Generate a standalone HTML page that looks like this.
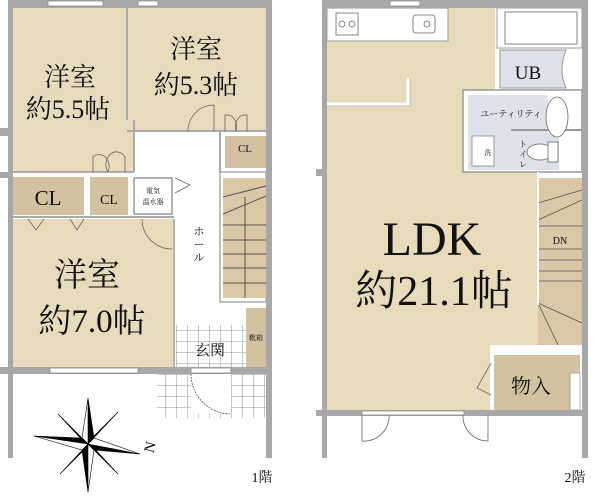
<!DOCTYPE html>
<html><head><meta charset="utf-8"><style>
html,body{margin:0;padding:0;background:#fff;width:600px;height:498px;overflow:hidden}
svg{display:block}
text{font-family:"Liberation Serif","Noto Serif CJK SC",serif;fill:#111}
</style></head><body>
<svg width="600" height="498" viewBox="0 0 600 498" xmlns="http://www.w3.org/2000/svg">
<defs>
<pattern id="tile" width="11" height="11" patternUnits="userSpaceOnUse">
<rect width="11" height="11" fill="#fff"/><path d="M0 0H11M0 0V11" stroke="#777" stroke-width="0.8"/></pattern>
</defs>
<!-- ===== 1F ===== -->
<rect x="13" y="8" width="121" height="163" fill="#e8dbbc"/>
<rect x="127" y="8" width="139" height="122" fill="#e8dbbc"/>
<rect x="225" y="136" width="41" height="32" fill="#d3c2a2"/>
<rect x="13" y="177" width="71" height="38" fill="#d3c2a2"/>
<rect x="90" y="177" width="38" height="38" fill="#d3c2a2"/>
<rect x="134" y="178" width="38" height="36" fill="#fff" stroke="#999" stroke-width="1.5"/>
<rect x="13" y="219" width="160" height="148" fill="#e8dbbc"/>
<line x1="174" y1="219" x2="174" y2="368" stroke="#999" stroke-width="1.5"/>
<line x1="127" y1="8" x2="127" y2="120" stroke="#aaa" stroke-width="2"/>
<line x1="127" y1="131" x2="266" y2="131" stroke="#aaa" stroke-width="2"/>
<line x1="134" y1="120" x2="134" y2="172" stroke="#aaa" stroke-width="2"/>
<line x1="13" y1="172" x2="134" y2="172" stroke="#aaa" stroke-width="2"/>
<line x1="220" y1="131" x2="220" y2="172" stroke="#aaa" stroke-width="2"/>
<line x1="13" y1="217" x2="174" y2="217" stroke="#aaa" stroke-width="2"/>
<rect x="220" y="172" width="46" height="130" fill="#fff" stroke="#aaa" stroke-width="1.5"/>
<rect x="223" y="178" width="43" height="120" fill="#d9c7a6"/>
<g stroke="#555" stroke-width="1">
<line x1="223" y1="197" x2="266" y2="186"/><line x1="223" y1="214" x2="266" y2="196"/>
<line x1="245" y1="197" x2="245" y2="298"/>
<line x1="223" y1="225" x2="266" y2="225"/><line x1="223" y1="240" x2="266" y2="240"/>
<line x1="223" y1="254" x2="266" y2="254"/><line x1="223" y1="268" x2="266" y2="268"/>
<line x1="223" y1="283" x2="266" y2="283"/>
</g>
<rect x="176" y="325" width="70" height="43" fill="url(#tile)"/>
<rect x="246" y="308" width="20" height="60" fill="#d3c2a2"/>
<rect x="157" y="374" width="109" height="44" fill="url(#tile)"/>
<rect x="191" y="374" width="40" height="40" fill="#fff"/>
<path d="M191 374 A40 40 0 0 0 231 414" fill="none" stroke="#555" stroke-width="0.8" stroke-dasharray="2 1"/>
<g fill="#a8a8a8">
<rect x="8" y="0" width="5" height="458"/>
<rect x="266" y="0" width="6" height="458"/>
<rect x="8" y="0" width="264" height="8"/>
<rect x="0" y="128" width="13" height="8"/><rect x="0" y="172" width="13" height="6"/>
<rect x="0" y="367" width="272" height="7"/>
</g>
<g fill="#fff" stroke="#888" stroke-width="0.8">
<rect x="48" y="1" width="55" height="5"/><rect x="138" y="1" width="20" height="5"/>
<rect x="50" y="368" width="88" height="5"/><rect x="191" y="368" width="40" height="5"/>
</g>
<g fill="none" stroke="#666" stroke-width="0.8">
<path d="M188 131 A26 26 0 0 1 214 105 V131"/>
<path d="M225 131 V115 A10 12 0 0 1 236 131 M236 131 A10 12 0 0 1 247 115 V131"/>
<path d="M93 172 V157 A10 12 0 0 1 108 172 M108 172 A10 12 0 0 1 125 157 V172"/>
<path d="M142 219 A30 30 0 0 0 172 249"/>
<path d="M28 219 L36 230 L44 219 M70 219 L77 230 L84 219"/>
<path d="M175 178 L190 185 L175 193"/>
</g>
<text x="70" y="86" font-size="26" text-anchor="middle">洋室</text>
<text x="68" y="118" font-size="26" text-anchor="middle">約5.5帖</text>
<text x="196" y="58" font-size="26" text-anchor="middle">洋室</text>
<text x="196" y="94" font-size="26" text-anchor="middle">約5.3帖</text>
<text x="245" y="152" font-size="11" text-anchor="middle">CL</text>
<text x="48" y="205" font-size="21" text-anchor="middle">CL</text>
<text x="109" y="204" font-size="14" text-anchor="middle">CL</text>
<text x="153" y="193" font-size="7" text-anchor="middle">電気</text>
<text x="153" y="204" font-size="7" text-anchor="middle">温水器</text>
<text x="199" y="235" font-size="11" text-anchor="middle">ホ</text>
<text x="199" y="248" font-size="11" text-anchor="middle">ー</text>
<text x="199" y="261" font-size="11" text-anchor="middle">ル</text>
<text x="87" y="286" font-size="33" text-anchor="middle">洋室</text>
<text x="92" y="332" font-size="33" text-anchor="middle">約7.0帖</text>
<text x="210" y="355" font-size="15" text-anchor="middle">玄関</text>
<text x="256" y="340" font-size="7" text-anchor="middle">靴箱</text>
<g transform="translate(88,444)" stroke="#000" stroke-width="0.6">
<polygon points="0,-46 6,-6 0,0" fill="#000"/><polygon points="0,-46 -6,-6 0,0" fill="#fff"/>
<polygon points="0,48 -6,6 0,0" fill="#000"/><polygon points="0,48 6,6 0,0" fill="#fff"/>
<polygon points="-54,-8 -6,-6 0,0" fill="#000"/><polygon points="-54,-8 -6,6 0,0" fill="#fff"/>
<polygon points="52,10 6,6 0,0" fill="#000"/><polygon points="52,10 6,-6 0,0" fill="#fff"/>
<polygon points="-30,-30 -4,-2 0,0" fill="#000"/><polygon points="30,30 4,2 0,0" fill="#000"/>
<polygon points="30,-32 2,-4 0,0" fill="#000"/><polygon points="-28,30 -2,4 0,0" fill="#000"/>
</g>
<text x="150" y="452" font-size="15" text-anchor="middle" transform="rotate(-75 150 447)">N</text>
<text x="262" y="482" font-size="14" text-anchor="middle">1階</text>

<!-- ===== 2F ===== -->
<path d="M327 8 H495 V90 H463 V172 H538 V345 H490 V410 H327 Z" fill="#e8dbbc"/>
<rect x="327" y="8" width="121" height="33" fill="#fff" stroke="#999" stroke-width="1"/>
<g fill="none" stroke="#666" stroke-width="0.8">
<rect x="336" y="13" width="22" height="22"/><circle cx="342" cy="24" r="3"/><circle cx="352" cy="24" r="3"/>
<rect x="413" y="15" width="22" height="18" rx="3"/><circle cx="427" cy="24" r="3"/>
</g>
<path d="M327 104 H408 V78" fill="none" stroke="#fff" stroke-width="3"/>
<path d="M327 106 H410 V78" fill="none" stroke="#bbb" stroke-width="0.8"/>
<rect x="497" y="8" width="85" height="40" fill="#fff" stroke="#999" stroke-width="1"/>
<rect x="505" y="12" width="72" height="32" fill="none" stroke="#666" stroke-width="0.8"/>
<path d="M500 50 H566 Q558 70 566 88 H500 Z" fill="#dde1ea" stroke="#999" stroke-width="1"/>
<rect x="463" y="90" width="119" height="82" fill="#fff" stroke="#999" stroke-width="1.5"/>
<rect x="468" y="95" width="80" height="75" fill="#dde1ea"/>
<rect x="514" y="133" width="45" height="37" fill="#dde1ea"/>
<rect x="511" y="129" width="71" height="2" fill="#999"/>
<rect x="472" y="136" width="22" height="30" fill="#fff" stroke="#888" stroke-width="0.8"/>
<ellipse cx="557" cy="117" rx="11" ry="20" fill="#fff" stroke="#666" stroke-width="0.8"/>
<ellipse cx="540" cy="152" rx="13" ry="8" fill="#fff" stroke="#666" stroke-width="0.8"/>
<rect x="548" y="142" width="10" height="20" fill="#fff" stroke="#666" stroke-width="0.8"/>
<rect x="538" y="178" width="44" height="167" fill="#d9c7a6"/>
<g stroke="#555" stroke-width="0.8">
<line x1="538" y1="203" x2="582" y2="190"/><line x1="538" y1="220" x2="582" y2="200"/>
<line x1="538" y1="226" x2="582" y2="226"/><line x1="538" y1="249" x2="582" y2="249"/>
<line x1="538" y1="260" x2="582" y2="260"/><line x1="538" y1="271" x2="582" y2="271"/>
<line x1="538" y1="281" x2="582" y2="281"/><line x1="538" y1="303" x2="582" y2="323"/>
<line x1="538" y1="303" x2="558" y2="345"/>
</g>
<line x1="538" y1="172" x2="538" y2="305" stroke="#fff" stroke-width="2"/>
<rect x="490" y="345" width="92" height="65" fill="#fff"/>
<rect x="494" y="355" width="86" height="55" fill="#d3c2a2"/>
<rect x="570" y="373" width="10" height="37" fill="#fff" stroke="#999" stroke-width="0.8"/>
<path d="M491 363 L477 388 L491 395" fill="none" stroke="#666" stroke-width="0.8"/>
<g fill="#a8a8a8">
<rect x="322" y="0" width="5" height="458"/>
<rect x="582" y="0" width="6" height="458"/>
<rect x="322" y="0" width="266" height="8"/>
<rect x="316" y="169" width="11" height="7"/>
<rect x="316" y="410" width="272" height="6"/>
</g>
<g fill="#fff" stroke="#888" stroke-width="0.8">
<rect x="390" y="1" width="30" height="5"/><rect x="362" y="411" width="102" height="4"/>
</g>
<g fill="none" stroke="#666" stroke-width="0.8">
<path d="M362 415 V441 A25 25 0 0 0 389 415"/>
<path d="M463 415 A25 25 0 0 0 488 441 V415"/>
</g>
<text x="432" y="255" font-size="48" text-anchor="middle">LDK</text>
<text x="434" y="305" font-size="42" text-anchor="middle">約21.1帖</text>
<text x="528" y="79" font-size="19" text-anchor="middle">UB</text>
<text x="511" y="117" font-size="9" text-anchor="middle">ユーティリティ</text>
<text x="488" y="155" font-size="7" text-anchor="middle">洗</text>
<text x="523" y="147" font-size="8" text-anchor="middle">ト</text>
<text x="523" y="157" font-size="8" text-anchor="middle">イ</text>
<text x="523" y="167" font-size="8" text-anchor="middle">レ</text>
<text x="560" y="244" font-size="10" text-anchor="middle">DN</text>
<text x="531" y="393" font-size="20" text-anchor="middle">物入</text>
<text x="575" y="482" font-size="14" text-anchor="middle">2階</text>
</svg>
</body></html>
